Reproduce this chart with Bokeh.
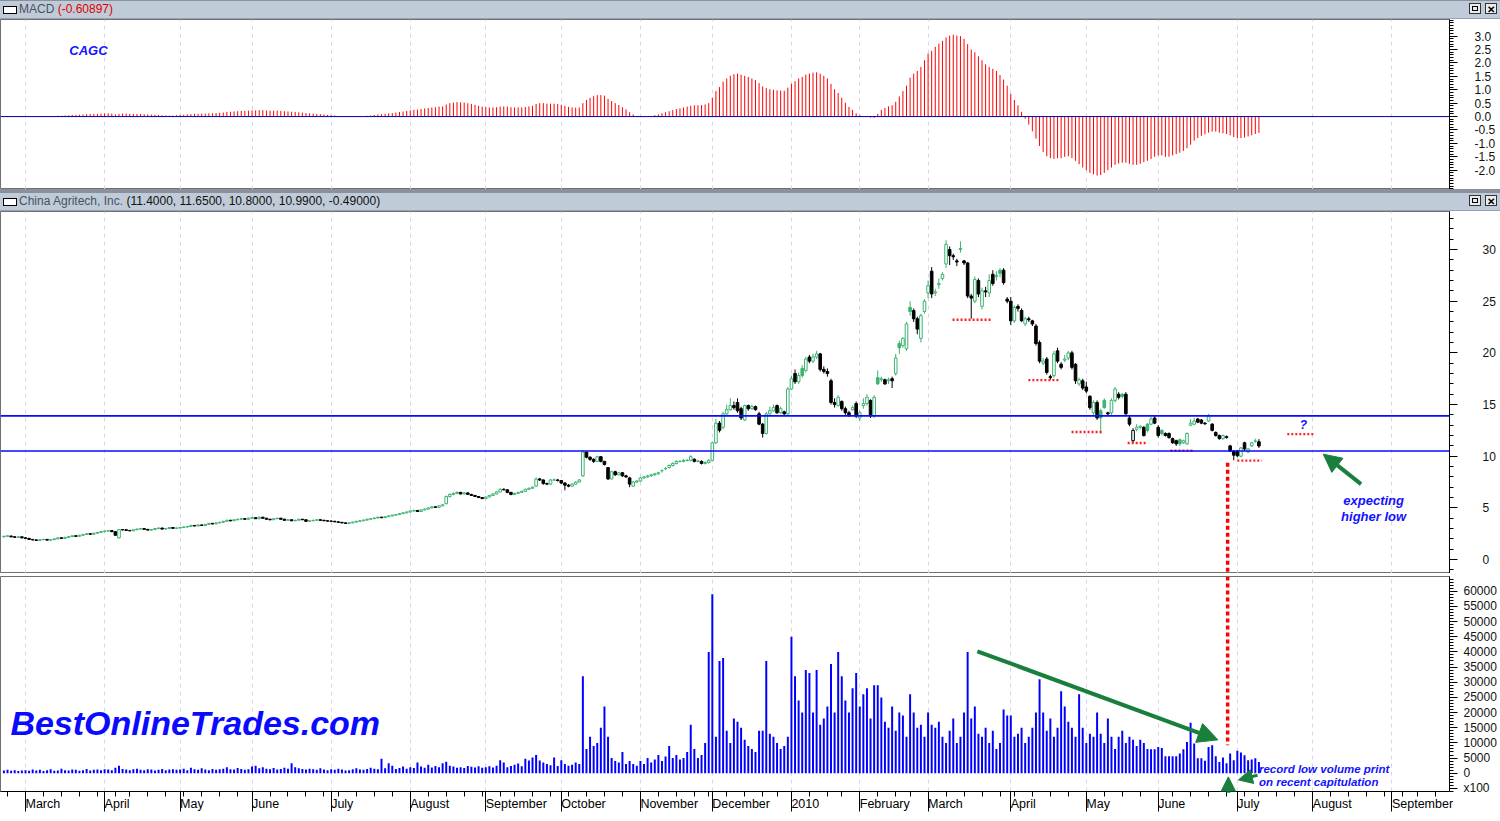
import numpy as np
import pandas as pd
from bokeh.plotting import figure
from bokeh.layouts import column
from bokeh.models import (ColumnDataSource, Span, Label, Arrow, NormalHead,
                          FixedTicker, Grid, NumeralTickFormatter, Div, Range1d)
from bokeh.embed import file_html
from bokeh.resources import INLINE

# ---------------------------------------------------------------- data
START = "2009-02-20"
HOLIDAYS = ["2009-02-16", "2009-04-10", "2009-05-25", "2009-07-03", "2009-09-07",
            "2009-11-26", "2009-12-25", "2010-01-01", "2010-01-18", "2010-02-15",
            "2010-04-02", "2010-05-31", "2010-07-05", "2010-09-06"]

opens = [
    2.20, 2.25, 2.28, 2.20, 2.15, 2.20,
    2.10, 2.05, 1.95, 1.90, 1.85, 1.92, 1.95, 1.88, 1.92, 2.00, 2.10, 2.05, 2.15, 2.22, 2.30, 2.25, 2.35, 2.42, 2.50, 2.45, 2.55, 2.62,
    2.70, 2.75, 2.80, 2.70, 2.10, 2.90, 2.88, 2.82, 2.78, 2.88, 2.95, 3.00, 2.92, 2.85, 2.90, 3.00, 3.05, 2.95, 3.00, 3.10, 3.02,
    3.05, 3.10, 3.15, 3.20, 3.30, 3.25, 3.35, 3.30, 3.40, 3.50, 3.45, 3.55, 3.60, 3.70, 3.80, 3.75, 3.85, 3.90, 3.95, 3.90,
    4.00, 4.05, 3.95, 4.10, 4.00, 3.90, 3.85, 3.95, 4.00, 3.90, 3.80, 3.85, 3.75, 3.80, 3.90, 3.85, 3.70, 3.75, 3.80, 3.85, 3.80, 3.75,
    3.72, 3.70, 3.65, 3.60, 3.55, 3.50, 3.55, 3.62, 3.70, 3.75, 3.82, 3.90, 3.95, 4.02, 4.10, 4.05, 4.15, 4.22, 4.30, 4.35, 4.45, 4.52,
    4.60, 4.70, 4.75, 4.65, 4.80, 4.88, 5.00, 5.10, 5.05, 5.20, 5.40, 6.10, 6.30, 6.40, 6.50, 6.35, 6.45, 6.30, 6.20, 6.10, 6.00,
    5.90, 6.05, 6.20, 6.35, 6.55, 6.80, 6.75, 6.50, 6.30, 6.40, 6.50, 6.60, 6.80, 6.90, 7.10, 7.80, 7.70, 7.35, 7.30, 7.70, 7.70,
    7.65, 7.40, 7.20, 7.10, 7.30, 7.50, 8.10, 10.40, 9.90, 9.70, 9.50, 9.95, 9.50, 8.90, 7.80, 8.50, 8.20, 8.40, 8.10, 7.90, 7.10, 7.50,
    7.60, 7.90, 8.00, 8.10, 8.20, 8.30, 8.60, 8.80, 8.90, 9.10, 9.30, 9.50, 9.50, 9.60, 9.60, 9.70, 9.50, 9.50, 9.30, 9.40,
    9.60, 11.30, 13.20, 12.80, 14.10, 14.50, 14.90, 15.20, 14.60, 13.50, 14.90, 14.60, 14.80, 14.10, 13.10, 12.20, 14.10, 14.40, 14.90, 14.20, 14.30, 14.10,
    16.50, 18.00, 17.20, 18.50, 18.30, 19.60, 19.20, 19.60, 19.90, 18.40, 18.20, 17.30, 15.20, 14.90, 15.30, 14.60, 14.20, 14.50, 15.10,
    13.70, 14.90, 15.10, 15.40, 13.90, 17.60, 17.40, 17.40, 17.30, 17.50, 18.00, 20.90, 20.70, 20.40, 24.40, 24.10, 23.30, 21.40, 24.00,
    25.80, 27.90, 25.80, 26.60, 27.20, 28.60, 30.00, 29.40, 28.90, 30.00, 28.90, 28.70, 25.50, 25.00, 27.00, 24.50, 26.00, 25.80, 27.60, 27.40, 28.00, 28.00, 25.20,
    25.00, 23.10, 24.50, 24.10, 22.80, 23.30, 23.10, 22.60, 21.00, 19.00, 19.40, 17.70, 17.80, 20.20, 18.90, 19.30, 19.50, 20.00, 18.90, 17.00, 17.30,
    16.70, 15.80, 14.20, 15.20, 14.40, 15.40, 14.20, 14.20, 15.40, 16.00, 16.00, 16.00, 13.70, 11.50, 12.60, 12.80, 12.80, 13.10, 13.10, 13.70,
    12.80, 12.50, 12.20, 12.20, 11.70, 11.50, 11.60, 11.30, 11.20, 13.00, 13.10, 13.60, 13.50, 13.20, 13.40, 13.10, 12.30, 12.00, 11.70, 11.80, 11.00, 10.50,
    10.50, 10.00, 11.30, 10.40, 11.00, 11.45, 11.40,
]

highs = [
    2.30, 2.35, 2.30, 2.25, 2.25, 2.22,
    2.15, 2.08, 1.98, 1.95, 1.96, 2.00, 1.98, 1.96, 2.05, 2.15, 2.14, 2.20, 2.28, 2.35, 2.34, 2.40, 2.48, 2.55, 2.54, 2.60, 2.68, 2.75,
    2.80, 2.85, 2.82, 2.72, 2.95, 2.95, 2.92, 2.86, 2.92, 3.00, 3.05, 3.04, 2.96, 2.95, 3.05, 3.10, 3.08, 3.05, 3.15, 3.12, 3.10,
    3.15, 3.20, 3.25, 3.35, 3.34, 3.40, 3.38, 3.45, 3.55, 3.54, 3.60, 3.65, 3.75, 3.85, 3.84, 3.90, 3.95, 4.00, 3.98, 4.05,
    4.12, 4.08, 4.15, 4.12, 4.04, 3.94, 3.98, 4.05, 4.03, 3.94, 3.90, 3.88, 3.84, 3.95, 3.93, 3.88, 3.80, 3.85, 3.90, 3.88, 3.84, 3.80,
    3.78, 3.75, 3.70, 3.64, 3.58, 3.60, 3.66, 3.75, 3.80, 3.86, 3.95, 4.00, 4.06, 4.15, 4.14, 4.20, 4.28, 4.35, 4.40, 4.50, 4.58, 4.66,
    4.76, 4.82, 4.80, 4.86, 4.94, 5.06, 5.16, 5.14, 5.26, 5.36, 6.20, 6.40, 6.50, 6.60, 6.55, 6.52, 6.50, 6.36, 6.26, 6.15, 6.05,
    6.12, 6.26, 6.42, 6.62, 6.88, 6.88, 6.80, 6.55, 6.46, 6.56, 6.66, 6.86, 6.96, 7.08, 7.95, 7.90, 7.75, 7.45, 7.80, 7.85, 7.80,
    7.70, 7.50, 7.30, 7.38, 7.58, 7.80, 10.60, 10.50, 10.00, 9.80, 10.05, 9.98, 9.55, 8.95, 8.60, 8.60, 8.50, 8.45, 8.20, 8.00, 7.60, 7.70,
    8.00, 8.10, 8.20, 8.30, 8.40, 8.50, 8.70, 8.95, 9.20, 9.40, 9.60, 9.60, 9.70, 9.70, 10.10, 9.80, 9.65, 9.60, 9.50, 9.70,
    11.40, 13.60, 13.40, 14.30, 15.00, 15.60, 15.30, 15.60, 14.80, 15.00, 15.00, 15.00, 14.90, 14.30, 13.20, 14.30, 14.80, 15.00, 15.00, 14.80, 14.40, 16.70,
    17.80, 18.40, 18.10, 18.80, 19.60, 19.80, 19.90, 20.20, 20.00, 18.70, 18.50, 17.50, 15.60, 15.90, 15.40, 14.80, 14.40, 14.90, 15.30,
    14.40, 15.60, 16.00, 15.50, 15.90, 18.30, 17.70, 17.50, 17.60, 17.70, 19.90, 21.20, 21.50, 23.00, 25.00, 24.30, 23.50, 23.80, 25.20,
    27.00, 28.30, 26.20, 27.20, 27.80, 30.90, 30.30, 29.60, 29.10, 30.80, 29.00, 28.80, 25.70, 27.40, 27.20, 26.30, 26.40, 27.60, 28.00, 27.90, 28.20, 28.20, 25.40,
    25.40, 24.60, 24.70, 24.30, 23.50, 23.50, 23.20, 22.80, 21.20, 19.50, 19.60, 17.90, 20.20, 20.50, 19.10, 19.80, 20.20, 20.20, 19.00, 17.60, 17.50,
    17.20, 15.90, 15.40, 15.40, 14.60, 15.60, 14.30, 15.60, 16.70, 16.20, 16.10, 16.20, 13.90, 12.70, 13.10, 13.00, 12.90, 13.20, 13.80, 13.90,
    13.00, 12.60, 12.30, 12.30, 11.80, 11.60, 11.70, 11.60, 12.30, 13.60, 13.70, 13.70, 13.60, 13.30, 14.10, 13.20, 12.40, 12.10, 12.10, 12.00, 11.10, 10.60,
    10.60, 10.90, 11.40, 10.80, 11.40, 11.70, 11.65,
]

lows = [
    2.15, 2.20, 2.15, 2.10, 2.10, 2.05,
    2.00, 1.90, 1.85, 1.80, 1.82, 1.88, 1.84, 1.85, 1.90, 1.98, 2.00, 2.02, 2.12, 2.20, 2.20, 2.22, 2.32, 2.40, 2.40, 2.42, 2.52, 2.60,
    2.65, 2.72, 2.65, 2.30, 2.05, 2.82, 2.78, 2.74, 2.75, 2.85, 2.92, 2.88, 2.80, 2.82, 2.88, 2.96, 2.90, 2.92, 2.98, 2.98, 2.98,
    3.00, 3.05, 3.10, 3.15, 3.20, 3.22, 3.25, 3.28, 3.35, 3.40, 3.42, 3.50, 3.55, 3.65, 3.70, 3.72, 3.80, 3.85, 3.85, 3.85,
    3.95, 3.92, 3.92, 3.96, 3.86, 3.80, 3.82, 3.92, 3.86, 3.76, 3.78, 3.72, 3.72, 3.78, 3.82, 3.66, 3.68, 3.72, 3.76, 3.76, 3.72, 3.68,
    3.66, 3.62, 3.56, 3.50, 3.45, 3.46, 3.52, 3.58, 3.66, 3.72, 3.78, 3.86, 3.92, 3.98, 4.00, 4.02, 4.10, 4.18, 4.26, 4.32, 4.40, 4.48,
    4.55, 4.66, 4.60, 4.60, 4.76, 4.84, 4.95, 5.00, 5.00, 5.15, 5.35, 6.00, 6.22, 6.32, 6.30, 6.30, 6.25, 6.15, 6.05, 5.95, 5.85,
    5.85, 6.00, 6.15, 6.30, 6.50, 6.68, 6.42, 6.22, 6.25, 6.36, 6.45, 6.55, 6.74, 6.85, 7.05, 7.60, 7.25, 7.20, 7.25, 7.60, 7.55,
    7.35, 6.70, 7.00, 7.05, 7.25, 7.45, 8.00, 9.80, 9.55, 9.35, 9.45, 9.40, 9.10, 7.70, 7.75, 8.10, 8.15, 8.00, 7.90, 7.00, 7.05, 7.40,
    7.50, 7.80, 7.90, 8.00, 8.10, 8.20, 8.40, 8.65, 8.80, 9.00, 9.20, 9.40, 9.40, 9.50, 9.50, 9.40, 9.40, 9.20, 9.20, 9.30,
    9.50, 11.20, 12.30, 12.60, 14.00, 14.40, 14.50, 14.20, 13.50, 13.40, 14.40, 14.50, 14.40, 13.00, 11.80, 12.10, 14.00, 14.30, 14.10, 14.10, 14.00, 14.00,
    16.40, 17.00, 17.00, 17.60, 18.10, 19.00, 19.00, 19.40, 18.20, 18.00, 17.70, 15.00, 14.70, 14.80, 14.40, 14.00, 13.80, 14.40, 13.70,
    13.40, 14.60, 14.90, 13.70, 13.70, 16.90, 17.20, 16.90, 17.00, 16.60, 17.80, 19.90, 20.50, 20.20, 23.60, 23.00, 21.80, 21.00, 23.80,
    25.30, 25.30, 25.50, 26.20, 27.00, 28.20, 28.50, 29.00, 28.40, 29.70, 28.50, 25.30, 23.30, 24.80, 25.40, 24.20, 25.40, 25.40, 26.50, 27.00, 27.30, 26.60, 24.80,
    22.70, 22.90, 24.00, 23.00, 22.60, 23.00, 22.60, 20.70, 19.00, 18.80, 17.90, 17.40, 17.60, 19.00, 18.40, 19.10, 19.30, 18.40, 17.00, 16.80, 16.40,
    16.10, 14.50, 14.00, 13.50, 12.20, 14.60, 13.90, 14.00, 15.20, 15.50, 15.60, 14.00, 12.90, 11.30, 12.40, 12.60, 11.90, 12.30, 13.00, 13.10,
    11.80, 12.00, 11.90, 11.70, 11.20, 11.00, 11.00, 11.20, 11.10, 12.90, 13.00, 13.20, 13.10, 13.00, 13.30, 12.40, 11.90, 11.60, 11.60, 11.70, 10.40, 9.60,
    9.90, 9.90, 10.50, 10.30, 10.90, 11.30, 10.80,
]

closes = [
    2.25, 2.30, 2.20, 2.15, 2.20, 2.10,
    2.05, 1.95, 1.90, 1.85, 1.92, 1.95, 1.88, 1.92, 2.00, 2.10, 2.05, 2.15, 2.22, 2.30, 2.25, 2.35, 2.42, 2.50, 2.45, 2.55, 2.62, 2.70,
    2.75, 2.80, 2.70, 2.35, 2.90, 2.88, 2.82, 2.78, 2.88, 2.95, 3.00, 2.92, 2.85, 2.90, 3.00, 3.05, 2.95, 3.00, 3.10, 3.02, 3.05,
    3.10, 3.15, 3.20, 3.30, 3.25, 3.35, 3.30, 3.40, 3.50, 3.45, 3.55, 3.60, 3.70, 3.80, 3.75, 3.85, 3.90, 3.95, 3.90, 4.00,
    4.05, 3.95, 4.10, 4.00, 3.90, 3.85, 3.95, 4.00, 3.90, 3.80, 3.85, 3.75, 3.80, 3.90, 3.85, 3.70, 3.75, 3.80, 3.85, 3.80, 3.75, 3.72,
    3.70, 3.65, 3.60, 3.55, 3.50, 3.55, 3.62, 3.70, 3.75, 3.82, 3.90, 3.95, 4.02, 4.10, 4.05, 4.15, 4.22, 4.30, 4.35, 4.45, 4.52, 4.60,
    4.70, 4.75, 4.65, 4.80, 4.88, 5.00, 5.10, 5.05, 5.20, 5.30, 6.10, 6.30, 6.40, 6.50, 6.35, 6.45, 6.30, 6.20, 6.10, 6.00, 5.90,
    6.05, 6.20, 6.35, 6.55, 6.80, 6.75, 6.50, 6.30, 6.40, 6.50, 6.60, 6.80, 6.90, 7.00, 7.80, 7.70, 7.35, 7.30, 7.70, 7.70, 7.65,
    7.40, 7.20, 7.10, 7.30, 7.50, 7.70, 10.40, 9.90, 9.70, 9.50, 9.95, 9.50, 9.20, 7.80, 8.50, 8.20, 8.40, 8.10, 8.00, 7.30, 7.50, 7.60,
    7.90, 8.00, 8.10, 8.20, 8.30, 8.40, 8.60, 8.80, 9.10, 9.30, 9.50, 9.50, 9.60, 9.60, 9.95, 9.50, 9.55, 9.30, 9.40, 9.60,
    11.30, 13.20, 12.50, 14.10, 14.50, 14.90, 14.70, 14.40, 13.70, 14.90, 14.60, 14.80, 14.50, 13.10, 12.20, 14.10, 14.40, 14.70, 14.20, 14.60, 14.10, 16.50,
    17.50, 17.20, 17.80, 17.80, 19.40, 19.20, 19.60, 19.90, 18.40, 18.20, 18.00, 15.20, 15.00, 15.70, 14.60, 14.20, 14.00, 14.70, 13.90,
    14.20, 15.10, 15.70, 13.90, 15.70, 17.00, 17.50, 17.00, 17.40, 17.30, 19.50, 20.50, 21.40, 22.80, 24.00, 23.30, 22.30, 23.60, 25.00,
    26.50, 25.70, 25.90, 26.70, 27.60, 30.50, 29.40, 29.30, 28.80, 30.10, 28.70, 25.50, 25.30, 27.10, 25.70, 26.00, 25.90, 27.00, 26.70, 27.50, 27.70, 26.80, 25.00,
    23.10, 24.40, 24.30, 23.10, 23.30, 23.20, 22.80, 20.90, 19.20, 19.20, 18.10, 17.60, 19.90, 19.20, 18.60, 19.40, 20.00, 18.60, 17.30, 17.40, 16.60,
    16.30, 14.70, 15.20, 13.70, 13.70, 14.70, 14.10, 15.40, 16.50, 15.70, 15.80, 14.10, 13.10, 12.50, 12.80, 12.90, 12.00, 12.50, 13.60, 13.20,
    12.00, 12.20, 12.00, 11.80, 11.30, 11.20, 11.20, 11.50, 12.20, 13.20, 13.40, 13.30, 13.20, 13.15, 13.90, 12.50, 12.00, 11.70, 12.00, 11.90, 10.50, 10.10,
    10.05, 10.80, 10.70, 10.70, 11.30, 11.48, 10.99,
]

volumes = [  # x100 shares
    900, 1100, 800, 1000, 700, 900,
    1000, 800, 1200, 900, 1100, 700, 1000, 1300, 800, 900, 1500, 1000, 900, 1200, 1100, 800, 1000, 1400, 900, 1100, 1200, 1000,
    1300, 1200, 1000, 1800, 2500, 1400, 1200, 1000, 1300, 1500, 1100, 1000, 1300, 1200, 900, 1100, 1400, 1000, 1200, 1300, 1100,
    1200, 1500, 1000, 1800, 1300, 1100, 1600, 1200, 1000, 1400, 1100, 1300, 1500, 2000, 1300, 1200, 1700, 1400, 1100, 1300,
    2200, 2500, 1600, 2000, 1500, 1300, 1700, 1200, 1400, 1800, 1500, 3300, 2000, 1600, 1400, 1200, 1500, 1300, 1100, 1600, 1200, 1000,
    1300, 1100, 1500, 1200, 900, 1000, 1300, 1600, 1200, 1100, 1400, 1800, 1500, 1300, 4800, 1600, 3300, 2500, 1400, 1700, 2200, 1500,
    2000, 1700, 3500, 2200, 1800, 2800, 1900, 2400, 2000, 3300, 3800, 2500, 2200, 1800, 2000, 1700, 2400, 2100, 1900, 2300, 1800,
    2000, 2300, 1900, 2500, 4300, 3500, 2000, 2400, 2800, 3200, 2300, 4800, 4200, 5200, 6000, 4200, 3500, 3000, 2600, 5200, 2400,
    4300, 3000, 2500, 2800, 3500, 3000, 32000, 8000, 12000, 9000, 10000, 15000, 22000, 12000, 5000, 4000, 3500, 7000, 3000, 4000, 3000, 2500,
    4000, 3000, 5000, 3500, 4500, 6000, 4000, 5500, 9000, 5000, 6000, 4500, 5000, 7000, 16000, 8000, 5000, 6000, 10000, 40000,
    59000, 12000, 37000, 38000, 14000, 10000, 18000, 17000, 15000, 11000, 9000, 8000, 7000, 14000, 14000, 37000, 13000, 12000, 10000, 8000, 9000, 12000,
    45000, 32000, 24000, 20000, 34000, 33000, 20000, 34000, 16000, 18000, 22000, 36000, 20000, 40000, 32000, 24000, 20000, 28000, 33000,
    22000, 26000, 28000, 18000, 29000, 29000, 25000, 17000, 15000, 22000, 14000, 20000, 19000, 12000, 26000, 20000, 15000, 16000, 12000,
    20000, 16000, 15000, 17000, 12000, 10000, 14000, 18000, 10000, 12000, 20000, 40000, 18000, 22000, 13000, 12000, 15000, 10000, 14000, 8000, 10000, 21000, 19000,
    19000, 12000, 13000, 15000, 10000, 12000, 15000, 20000, 31000, 20000, 14000, 18000, 12000, 15000, 27000, 22000, 17000, 15000, 12000, 26000, 15000,
    10000, 13000, 12000, 20000, 13000, 10000, 18000, 12000, 8000, 12000, 14000, 10000, 12000, 11000, 9000, 11000, 10000, 8000, 7900, 7900,
    8600, 8300, 5600, 5600, 5600, 5600, 6500, 7900, 10300, 16600, 9800, 4900, 4900, 4100, 8600, 9200, 5600, 3700, 5200, 3300, 6500, 4300,
    7400, 6800, 5900, 4300, 4500, 4900, 3700,
]

macd = [
    -0.02, -0.02, -0.01, -0.01, 0.0, 0.0,
    0.0, -0.01, -0.02, -0.02, -0.01, 0.0, 0.0, 0.01, 0.02, 0.03, 0.03, 0.04, 0.05, 0.06, 0.06, 0.07, 0.08, 0.09, 0.09, 0.10, 0.10, 0.11,
    0.12, 0.12, 0.11, 0.08, 0.10, 0.11, 0.11, 0.10, 0.10, 0.10, 0.10, 0.09, 0.08, 0.07, 0.07, 0.06, 0.05, 0.04, 0.04, 0.04, 0.05,
    0.06, 0.07, 0.08, 0.09, 0.10, 0.10, 0.11, 0.11, 0.12, 0.12, 0.13, 0.14, 0.15, 0.17, 0.18, 0.19, 0.20, 0.21, 0.21, 0.22,
    0.23, 0.23, 0.24, 0.24, 0.23, 0.22, 0.22, 0.22, 0.21, 0.20, 0.19, 0.18, 0.17, 0.16, 0.15, 0.13, 0.12, 0.11, 0.10, 0.09, 0.08, 0.06,
    0.05, 0.04, 0.02, 0.0, -0.01, -0.02, -0.02, -0.01, 0.0, 0.01, 0.03, 0.04, 0.06, 0.08, 0.09, 0.10, 0.12, 0.13, 0.15, 0.17, 0.19, 0.21,
    0.23, 0.25, 0.26, 0.28, 0.30, 0.32, 0.34, 0.35, 0.37, 0.38, 0.45, 0.50, 0.52, 0.54, 0.53, 0.52, 0.50, 0.47, 0.44, 0.40, 0.37,
    0.35, 0.34, 0.34, 0.35, 0.37, 0.38, 0.37, 0.35, 0.34, 0.34, 0.34, 0.36, 0.38, 0.40, 0.47, 0.50, 0.50, 0.48, 0.48, 0.48, 0.47,
    0.44, 0.40, 0.36, 0.34, 0.33, 0.34, 0.50, 0.62, 0.70, 0.76, 0.80, 0.80, 0.78, 0.66, 0.58, 0.50, 0.43, 0.35, 0.27, 0.16, 0.08, 0.02,
    0.0, -0.01, 0.0, 0.02, 0.05, 0.08, 0.12, 0.16, 0.20, 0.24, 0.28, 0.31, 0.34, 0.37, 0.40, 0.42, 0.42, 0.43, 0.45, 0.50,
    0.70, 0.95, 1.10, 1.30, 1.42, 1.52, 1.58, 1.60, 1.56, 1.52, 1.48, 1.42, 1.36, 1.25, 1.12, 1.06, 1.02, 1.00, 0.98, 0.97, 0.96, 1.08,
    1.22, 1.32, 1.42, 1.48, 1.56, 1.60, 1.64, 1.65, 1.60, 1.52, 1.42, 1.22, 1.02, 0.88, 0.70, 0.52, 0.36, 0.25, 0.12,
    0.05, 0.02, 0.0, -0.04, -0.05, 0.10, 0.25, 0.32, 0.38, 0.42, 0.55, 0.75, 0.95, 1.15, 1.45, 1.60, 1.70, 1.85, 2.10,
    2.35, 2.45, 2.60, 2.72, 2.82, 2.95, 3.02, 3.05, 3.02, 3.00, 2.90, 2.70, 2.50, 2.40, 2.25, 2.10, 1.95, 1.85, 1.78, 1.70, 1.55, 1.38, 1.15,
    0.85, 0.62, 0.42, 0.18, -0.08, -0.30, -0.55, -0.82, -1.10, -1.32, -1.48, -1.55, -1.58, -1.55, -1.55, -1.50, -1.48, -1.55, -1.65, -1.78, -1.90,
    -2.00, -2.10, -2.15, -2.20, -2.18, -2.10, -2.00, -1.90, -1.80, -1.75, -1.72, -1.72, -1.76, -1.80, -1.80, -1.76, -1.70, -1.65, -1.58, -1.50,
    -1.45, -1.45, -1.50, -1.50, -1.45, -1.40, -1.35, -1.28, -1.18, -1.05, -0.90, -0.80, -0.72, -0.66, -0.60, -0.56, -0.56, -0.60, -0.62, -0.65, -0.70, -0.76,
    -0.80, -0.80, -0.78, -0.74, -0.70, -0.65, -0.61,
]

blue_levels = [13.9, 10.5]

n = len(closes)
for nm, arr in [("opens", opens), ("highs", highs), ("lows", lows),
                ("volumes", volumes), ("macd", macd)]:
    if len(arr) != n:
        raise ValueError(f"{nm} has {len(arr)} values, closes has {n}")

# ---------------------------------------------------------------- x axis (trading-day index)
dates = pd.bdate_range(START, periods=420, freq="C", holidays=HOLIDAYS)
X0, X1 = -0.95, 402.0
month_ticks, month_labels, week_ticks = [], {}, []
for i in range(1, len(dates)):
    if i > X1:
        break
    if dates[i].month != dates[i - 1].month:
        month_ticks.append(i)
        month_labels[i] = "2010" if (dates[i].month == 1) else dates[i].strftime("%B")
    elif dates[i].weekday() < dates[i - 1].weekday():
        week_ticks.append(i)

xr = Range1d(X0, X1)
idx = list(range(n))

FONT = "Liberation Sans"
W = 1500
RB = 51
GRIDC = "#d6d6f0"
GREEN_ARROW = "#18803c"
TXT_BLUE = "#1212ff"


def make_fig(h, y0, y1, bottom_axis=False, bottom_border=0):
    p = figure(width=W, height=h, x_range=xr, y_range=Range1d(y0, y1),
               output_backend="svg", toolbar_location=None,
               x_axis_location="below" if bottom_axis else None,
               y_axis_location="right",
               min_border_left=0, min_border_right=RB, min_border_top=0,
               min_border_bottom=bottom_border,
               background_fill_color="white", border_fill_color="white",
               outline_line_color="#707070", outline_line_width=1)
    p.grid.visible = False
    p.add_layout(Grid(dimension=0, ticker=FixedTicker(ticks=month_ticks),
                      grid_line_color=GRIDC, grid_line_dash="4 4", grid_line_width=1))
    ax = p.yaxis[0]
    ax.axis_line_color = "black"
    ax.major_tick_out = 8
    ax.major_tick_in = 0
    ax.minor_tick_out = 4
    ax.minor_tick_in = 0
    ax.major_tick_line_color = "black"
    ax.minor_tick_line_color = "black"
    ax.major_label_text_font = FONT
    ax.major_label_text_font_size = "12px"
    ax.major_label_text_color = "#111111"
    return p


def header(inner, h, top_border):
    html = (
        f'<div style="position:relative;width:{W}px;height:{h}px;box-sizing:border-box;'
        f'background:#bfcbd8;border-top:{top_border}px solid #8c9199;border-bottom:1px solid #9aa3ad;'
        f"font-family:'{FONT}',Arial,sans-serif;font-size:12px;line-height:{h - top_border - 1}px;"
        'white-space:nowrap;overflow:hidden;color:#4a5262;">'
        '<span style="display:inline-block;vertical-align:middle;width:14px;height:8px;'
        'border:1px solid #000;background:#fff;margin:0 2px 0 3px;"></span>'
        f'{inner}'
        '<span style="position:absolute;right:19px;top:2px;width:12px;height:11px;'
        'border:1px solid #333;background:#e9edf2;"></span>'
        '<span style="position:absolute;right:22px;top:5px;width:6px;height:5px;'
        'border:1px solid #000;"></span>'
        '<span style="position:absolute;right:3px;top:2px;width:12px;height:11px;'
        'border:1px solid #333;background:#e9edf2;font-size:10px;line-height:11px;'
        'text-align:center;color:#000;font-weight:bold;">&#x2715;</span>'
        '</div>')
    return Div(text=html, width=W, height=h, margin=(0, 0, 0, 0))


# ---------------------------------------------------------------- MACD panel
h1 = header('MACD <span style="color:#e00000;">(-0.60897)</span>', 19, 1)

pm = make_fig(170, -2.72, 3.62)
pm.yaxis[0].ticker = FixedTicker(
    ticks=[-2.0, -1.5, -1.0, -0.5, 0.0, 0.5, 1.0, 1.5, 2.0, 2.5, 3.0],
    minor_ticks=[round(v, 1) for v in np.arange(-2.7, 3.65, 0.1)])
pm.yaxis[0].formatter = NumeralTickFormatter(format="0.0")
pm.yaxis[0].major_label_standoff = 17
pm.segment(x0=idx, y0=[0] * n, x1=idx, y1=macd, line_color="#ff0000", line_width=1)
pm.add_layout(Span(location=0, dimension="width", line_color="#0000b0", line_width=1))
pm.add_layout(Label(x=23.5, y=2.46, text="CAGC", text_font=FONT, text_font_size="13px",
                    text_font_style="bold italic", text_color=TXT_BLUE,
                    text_align="center", text_baseline="middle"))

# ---------------------------------------------------------------- price panel
h2 = header('China Agritech, Inc. <span style="color:#111;">'
            '(11.4000, 11.6500, 10.8000, 10.9900, -0.49000)</span>', 22, 4)

pp = make_fig(362, -1.35, 33.68)
pp.yaxis[0].ticker = FixedTicker(ticks=[0, 5, 10, 15, 20, 25, 30],
                                 minor_ticks=list(range(-1, 34)))
pp.yaxis[0].major_label_standoff = 25

prev_close = [closes[0]] + closes[:-1]
col = ["#3cb371" if c >= pc else "#000000" for c, pc in zip(closes, prev_close)]
fill = ["#ffffff" if c > o else cc for c, o, cc in zip(closes, opens, col)]
src = ColumnDataSource(dict(
    x=idx,
    hi=list(np.maximum(np.maximum(highs, opens), closes)),
    lo=list(np.minimum(np.minimum(lows, opens), closes)),
    top=list(np.maximum(opens, closes)),
    bot=list(np.minimum(opens, closes)),
    col=col, fill=fill))
pp.segment(x0="x", y0="hi", x1="x", y1="lo", line_color="col", line_width=1, source=src)
pp.vbar(x="x", width=0.72, top="top", bottom="bot", fill_color="fill",
        line_color="col", line_width=1, source=src)

for lvl in blue_levels:
    pp.add_layout(Span(location=lvl, dimension="width", line_color="#0a0aff", line_width=1.6))

# red dotted support marks (annotation layer)
sup_x0 = [263.8, 284.9, 296.9, 312.5, 324.4, 343.0, 356.9]
sup_x1 = [274.9, 293.6, 305.6, 318.0, 330.6, 349.8, 364.2]
sup_y = [23.2, 17.36, 12.34, 11.28, 10.53, 9.57, 12.14]
pp.segment(x0=sup_x0, y0=sup_y, x1=sup_x1, y1=sup_y, line_color="#ff2020",
           line_width=2.4, line_dash="2 2")
pp.segment(x0=[340.3], y0=[9.37], x1=[340.3], y1=[-1.4], line_color="#ff0000",
           line_width=3.5, line_dash="4 3")
pp.add_layout(Label(x=361.4, y=13.0, text="?", text_font=FONT, text_font_size="12px",
                    text_font_style="bold italic", text_color=TXT_BLUE,
                    text_align="center", text_baseline="middle"))
pp.add_layout(Arrow(end=NormalHead(size=18, fill_color=GREEN_ARROW, line_color=GREEN_ARROW),
                    x_start=377.4, y_start=7.3, x_end=366.9, y_end=10.2,
                    line_color=GREEN_ARROW, line_width=4))
pp.add_layout(Label(x=380.9, y=5.7, text="expecting", text_font=FONT, text_font_size="13px",
                    text_font_style="bold italic", text_color=TXT_BLUE,
                    text_align="center", text_baseline="middle"))
pp.add_layout(Label(x=380.9, y=4.15, text="higher low", text_font=FONT, text_font_size="13px",
                    text_font_style="bold italic", text_color=TXT_BLUE,
                    text_align="center", text_baseline="middle"))

sep = Div(text=f'<div style="width:{W}px;height:3px;background:#a8acb2;"></div>',
          width=W, height=3, margin=(0, 0, 0, 0))

# ---------------------------------------------------------------- volume panel
pv = make_fig(245, -6030, 64850, bottom_axis=True, bottom_border=30)
pv.yaxis[0].ticker = FixedTicker(ticks=list(range(-5000, 60001, 5000)),
                                 minor_ticks=list(range(-6000, 65000, 1000)))
pv.yaxis[0].formatter = NumeralTickFormatter(format="0")
pv.yaxis[0].major_label_overrides = {-5000: "x100"}
pv.yaxis[0].major_label_standoff = 6
pv.vbar(x=idx, width=0.55, top=volumes, bottom=0, fill_color="#0000ff", line_color=None)

xa = pv.xaxis[0]
xa.ticker = FixedTicker(ticks=month_ticks, minor_ticks=week_ticks)
xa.major_label_overrides = month_labels
xa.major_label_orientation = -0.0001
xa.major_label_text_font = FONT
xa.major_label_text_font_size = "12.5px"
xa.major_label_text_color = "#000000"
xa.major_tick_out = 20
xa.major_tick_in = 0
xa.minor_tick_out = 5
xa.minor_tick_in = 0
xa.major_label_standoff = -8
xa.axis_line_color = "black"
xa.major_tick_line_color = "black"
xa.minor_tick_line_color = "black"

pv.segment(x0=[340.3], y0=[64850], x1=[340.3], y1=[9230], line_color="#ff0000",
           line_width=3.5, line_dash="4 3")
pv.add_layout(Label(x=1.8, y=16700, text="BestOnlineTrades.com", text_font=FONT,
                    text_font_size="34px", text_font_style="bold italic",
                    text_color="#0a0aff", text_baseline="middle"))
pv.add_layout(Arrow(end=NormalHead(size=20, fill_color=GREEN_ARROW, line_color=GREEN_ARROW),
                    x_start=270.7, y_start=40200, x_end=337.6, y_end=11000,
                    line_color=GREEN_ARROW, line_width=4))
pv.add_layout(Arrow(end=NormalHead(size=16, fill_color=GREEN_ARROW, line_color=GREEN_ARROW),
                    x_start=340.5, y_start=-14500, x_end=340.5, y_end=-1200,
                    line_color=GREEN_ARROW, line_width=4))
pv.add_layout(Arrow(end=NormalHead(size=14, fill_color=GREEN_ARROW, line_color=GREEN_ARROW),
                    x_start=348.6, y_start=-700, x_end=343.3, y_end=-2200,
                    line_color=GREEN_ARROW, line_width=3))
pv.add_layout(Label(x=349.0, y=1500, text="record low volume print",
                    text_font=FONT, text_font_size="11.5px", text_font_style="bold italic",
                    text_color=TXT_BLUE, text_baseline="middle"))
pv.add_layout(Label(x=349.0, y=-3000, text="on recent capitulation",
                    text_font=FONT, text_font_size="11.5px", text_font_style="bold italic",
                    text_color=TXT_BLUE, text_baseline="middle"))

layout = column(h1, pm, h2, pp, sep, pv, spacing=0)
open("out.html", "w").write(file_html(layout, INLINE))
